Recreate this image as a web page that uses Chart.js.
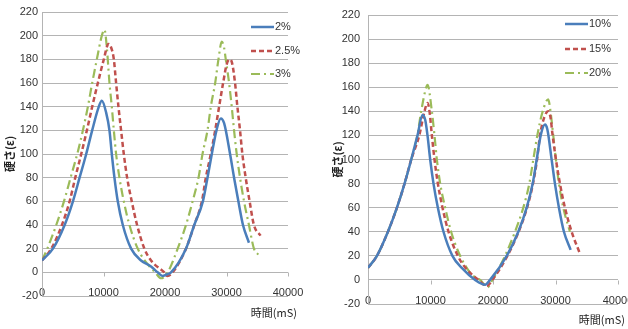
<!DOCTYPE html>
<html>
<head>
<meta charset="utf-8">
<script src="https://cdn.jsdelivr.net/npm/chart.js@4.4.0/dist/chart.umd.min.js"></script>
<style>
  html, body { margin: 0; padding: 0; background: #fff; }
  #wrap { position: relative; width: 628px; height: 329px; overflow: hidden; }
  canvas { position: absolute; top: 0; }
</style>
</head>
<body>
<div id="wrap">
  <canvas id="left" width="320" height="329" style="left:0"></canvas>
  <canvas id="right" width="308" height="329" style="left:320px"></canvas>
</div>
<script>
// ---------- data ----------
const yTitle = '硬さ(ε)';
const xTitle = '時間(mS)';

// left chart
const leftLabels = ['2%', '2.5%', '3%'];
const x2 = [0,1780,3680,5030,6110,7190,8160,9240,9730,10430,10970,11350,11780,12320,13140,14490,16100,17730,18800,19620,20170,20980,23410,24760,26160,26910,27610,28370,29070,29610,30580,31230,31930,32680,33650];
const y2 = [10,20,40,60,80,100,120,140,145,135,120,100,80,60,40,20,10,5,0,-3,-2,0,20,40,60,80,100,120,130,126,100,80,60,40,25];
const x25 = [0,1510,3240,4490,5410,6380,7300,8160,9080,10050,10810,11240,11680,12050,12430,12860,13300,13840,14590,15460,16650,17730,19890,20390,21250,23410,24760,26000,26640,27450,28160,28800,29450,30040,30530,30900,31390,31770,32200,32580,33120,33760,34460,35540];
const y25 = [10,20,40,60,80,100,120,140,160,180,193,190,180,160,140,120,100,80,60,40,20,10,0,-3,0,20,40,60,80,100,120,140,160,176,180,177,160,140,120,100,80,60,40,31];
const x3 = [0,860,2320,3570,4650,5730,6650,7460,8160,8920,9730,10160,10540,10970,11350,11680,12050,12590,13300,14220,15570,17460,18400,19360,20440,22060,23410,24490,25450,26100,26910,27450,28160,28690,29230,29600,29880,30420,30850,31230,31660,32200,32850,33650,34460,35160];
const y3 = [10,20,40,60,80,100,120,140,160,180,200,205,190,160,140,120,100,80,60,40,20,5,0,-5,0,20,40,60,80,100,120,140,160,180,195,190,180,160,140,120,100,80,60,40,20,15];

// right chart
const rightLabels = ['10%', '15%', '20%'];
const x10 = [0,1430,3190,4630,5850,6920,7920,8720,9150,9520,9950,10480,11180,12080,13510,15010,17140,18730,19530,22200,24050,25390,26350,26990,27630,28320,28700,29380,29910,30550,31350,32420];
const y10 = [10,20,40,60,80,100,120,137,133,120,100,80,60,40,20,10,0,-4,0,20,40,60,80,100,120,129,125,100,80,60,40,25];
const x15 = [0,1430,3190,4630,5850,6920,8200,9040,9520,9840,10220,10640,11180,11920,12880,14370,15600,17670,19010,19900,22300,24100,25450,26400,27050,27520,28200,28840,29200,29540,30070,30710,31510,32580,33900];
const y15 = [10,20,40,60,80,100,120,140,147,140,120,100,80,60,40,20,10,0,-5,0,20,40,60,80,100,120,135,140,135,120,100,80,60,40,22];
const x20 = [0,1430,3190,4630,5850,6920,7900,8510,9310,9520,10220,10640,11020,11550,12350,13300,14740,16500,17940,19170,19900,21930,23520,24850,25810,26450,27090,27950,28840,29200,29640,30070,30550,31240,32310];
const y20 = [10,20,40,60,80,100,120,140,160,162,140,120,100,80,60,40,20,5,0,-6,0,20,40,60,80,100,120,140,150,140,120,100,80,60,40];

// ---------- helpers ----------
const BLUE = '#4a7ebb', RED = '#c0504d', GREEN = '#9bbb59';
const GRID = '#b4b4b4';
const tickFont = { family: '"Liberation Sans Narrow", "Arial Narrow", sans-serif', size: 11 };

function pts(xs, ys) {
  return xs.map((x, i) => ({ x: x, y: ys[i] }));
}

function series(labels, pairs) {
  const styles = [
    { color: BLUE, dash: [], width: 2.5 },
    { color: RED, dash: [5, 3], width: 2.5 },
    { color: GREEN, dash: [9, 4, 2, 4], width: 2.2 }
  ];
  return pairs.map((p, i) => ({
    label: labels[i],
    data: pts(p[0], p[1]),
    borderColor: styles[i].color,
    borderDash: styles[i].dash,
    borderWidth: styles[i].width,
    pointRadius: 0,
    fill: false,
    cubicInterpolationMode: 'monotone'
  }));
}

// legend, x title and the little tick marks under the zero line
const overlay = {
  id: 'overlay',
  beforeDatasetsDraw(chart) {
    const ctx = chart.ctx, xs = chart.scales.x, ys = chart.scales.y;
    const y0 = Math.round(ys.getPixelForValue(0)) + 0.5;
    ctx.save();
    ctx.strokeStyle = GRID;
    ctx.lineWidth = 1;
    ctx.beginPath();
    xs.ticks.forEach(t => {
      if (t.value === 0) return;
      const px = Math.round(xs.getPixelForValue(t.value)) + 0.5;
      ctx.moveTo(px, y0);
      ctx.lineTo(px, y0 + 4);
    });
    ctx.stroke();
    ctx.restore();
  },
  afterDraw(chart, args, o) {
    const ctx = chart.ctx;
    ctx.save();
    chart.data.datasets.forEach((ds, i) => {
      const y = o.legendY[i];
      ctx.strokeStyle = ds.borderColor;
      ctx.lineWidth = ds.borderWidth;
      ctx.setLineDash(ds.borderDash);
      ctx.beginPath();
      ctx.moveTo(o.legendX, y);
      ctx.lineTo(o.legendX + 23, y);
      ctx.stroke();
      ctx.setLineDash([]);
      ctx.fillStyle = '#333';
      ctx.font = '11px "Liberation Sans Narrow", sans-serif';
      ctx.textAlign = 'left';
      ctx.textBaseline = 'middle';
      ctx.fillText(ds.label, o.legendX + 24, y);
    });
    ctx.fillStyle = '#222';
    ctx.font = '11px "Noto Sans CJK JP"';
    ctx.textAlign = 'right';
    ctx.textBaseline = 'middle';
    ctx.fillText(xTitle, o.xTitleX, o.xTitleY);
    ctx.restore();
  }
};

function makeChart(id, datasets, L) {
  return new Chart(document.getElementById(id), {
    type: 'line',
    data: { datasets: datasets },
    plugins: [overlay],
    options: {
      responsive: false,
      animation: false,
      layout: { padding: { top: L.top, right: L.right, left: 0, bottom: L.bottom } },
      plugins: {
        legend: { display: false },
        tooltip: { enabled: false },
        overlay: L.overlay
      },
      scales: {
        x: {
          type: 'linear',
          position: { y: -20 },
          min: 0,
          max: 40000,
          grid: { display: false, drawTicks: false },
          border: { display: false },
          ticks: {
            stepSize: 10000,
            font: tickFont,
            color: '#333',
            padding: L.xPad,
            maxRotation: 0,
            callback: v => String(v)
          }
        },
        y: {
          min: -20,
          max: 220,
          grid: { color: GRID, drawTicks: false },
          border: { color: GRID },
          ticks: { stepSize: 20, font: tickFont, color: '#333', padding: L.yPad },
          title: {
            display: true,
            text: yTitle,
            color: '#222',
            font: { family: '"Noto Sans CJK JP"', size: 11, weight: 'bold' },
            padding: { top: L.titlePad, bottom: 0 }
          },
          afterFit(scale) { scale.width = L.yWidth; }
        }
      }
    }
  });
}

makeChart('left', series(leftLabels, [[x2, y2], [x25, y25], [x3, y3]]), {
  top: 12, right: 32, bottom: 33, yWidth: 42, xPad: -10, yPad: 4, titlePad: 3,
  overlay: { legendX: 251, legendY: [27, 51, 74], xTitleX: 297, xTitleY: 313 }
});

makeChart('right', series(rightLabels, [[x10, y10], [x15, y15], [x20, y20]]), {
  top: 15, right: 10, bottom: 25, yWidth: 48, xPad: -10, yPad: 8, titlePad: 11,
  overlay: { legendX: 245, legendY: [24, 49, 73], xTitleX: 305, xTitleY: 320 }
});
</script>
</body>
</html>
